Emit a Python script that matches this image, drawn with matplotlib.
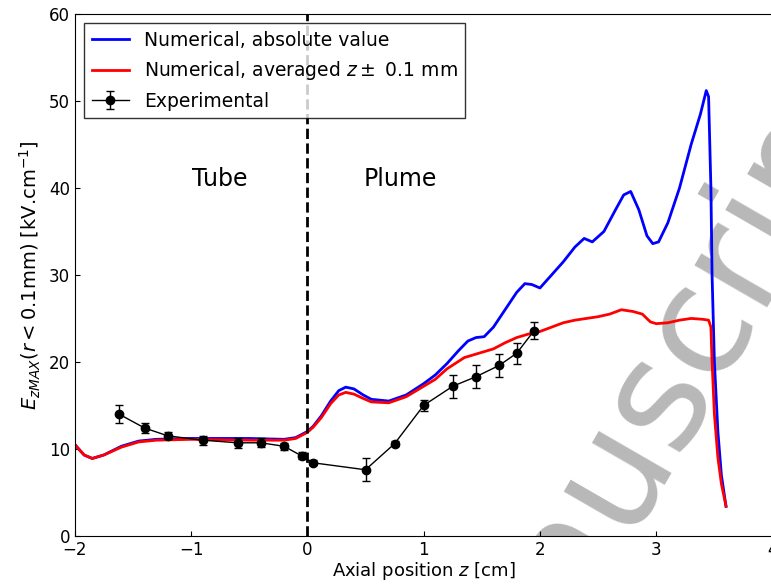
import matplotlib
matplotlib.use("Agg")
import matplotlib.pyplot as plt

blue_x = [-2,-1.92,-1.85,-1.75,-1.6,-1.45,-1.3,-1.0,-0.5,-0.2,-0.1,0.0,0.05,0.12,0.2,0.27,0.33,0.4,0.48,0.55,0.7,0.85,1.0,1.1,1.2,1.3,1.38,1.45,1.52,1.6,1.7,1.8,1.87,1.93,2.0,2.1,2.2,2.3,2.38,2.45,2.55,2.65,2.72,2.78,2.85,2.92,2.97,3.02,3.1,3.2,3.3,3.38,3.43,3.45,3.47,3.48,3.5,3.53,3.56,3.6]
blue_y = [10.5,9.3,8.9,9.3,10.3,10.9,11.1,11.2,11.2,11.1,11.3,12.0,12.6,13.8,15.5,16.7,17.1,16.9,16.2,15.7,15.5,16.2,17.5,18.5,19.8,21.3,22.4,22.8,22.9,24.0,26.0,28.0,29.0,28.9,28.5,30.0,31.5,33.2,34.2,33.8,35.0,37.5,39.2,39.6,37.5,34.5,33.6,33.8,36.0,40.0,45.0,48.5,51.2,50.5,40,30,20,12,7,3.4]
red_x = [-2,-1.92,-1.85,-1.75,-1.6,-1.45,-1.3,-1.0,-0.5,-0.2,-0.1,0.0,0.05,0.12,0.2,0.27,0.33,0.4,0.48,0.55,0.7,0.85,1.0,1.1,1.2,1.35,1.45,1.6,1.7,1.8,1.9,2.0,2.1,2.2,2.3,2.4,2.5,2.6,2.7,2.8,2.88,2.95,3.0,3.1,3.2,3.3,3.4,3.45,3.47,3.48,3.5,3.53,3.56,3.6]
red_y = [10.5,9.3,8.9,9.3,10.2,10.8,11.0,11.1,11.0,11.0,11.2,11.9,12.5,13.6,15.2,16.2,16.5,16.3,15.8,15.4,15.3,16.0,17.2,18.0,19.2,20.5,20.9,21.5,22.2,22.8,23.2,23.5,24.0,24.5,24.8,25.0,25.2,25.5,26.0,25.8,25.5,24.6,24.4,24.5,24.8,25.0,24.9,24.8,24.0,20,14,9,6,3.4]
exp_x = [-1.62,-1.4,-1.2,-0.9,-0.6,-0.4,-0.2,-0.05,0.05,0.5,0.75,1.0,1.25,1.45,1.65,1.8,1.95]
exp_y = [14.0,12.4,11.5,11.0,10.7,10.7,10.3,9.2,8.4,7.6,10.6,15.0,17.2,18.3,19.6,21.0,23.6]
exp_err = [1.0,0.6,0.4,0.5,0.6,0.5,0.4,0.4,0.3,1.3,0.3,0.6,1.3,1.3,1.3,1.2,1.0]

fig = plt.figure(figsize=(7.71,5.85), dpi=100)
ax = fig.add_axes([0.097, 0.084, 0.905, 0.892])
ax.plot(blue_x, blue_y, color='blue', lw=2, label='Numerical, absolute value')
ax.plot(red_x, red_y, color='red', lw=2, label=r'Numerical, averaged $z\pm$ 0.1 mm')
ax.errorbar(exp_x, exp_y, yerr=exp_err, fmt='-o', color='black', ms=6, lw=1, capsize=3, label='Experimental')
ax.axvline(0, color='black', ls='--', lw=2)
ax.text(-0.75, 41, 'Tube', fontsize=17, ha='center', va='center')
ax.text(0.8, 41, 'Plume', fontsize=17, ha='center', va='center')
ax.text(2.8, 12, 'manuscript', fontsize=110, color='#b0b0b0', rotation=60, ha='center', va='center', zorder=0, alpha=0.9, clip_on=True)
ax.set_xlim(-2, 4)
ax.set_ylim(0, 60)
ax.set_xticks(range(-2,5))
ax.set_xlabel(r'Axial position $z$ [cm]', fontsize=13, labelpad=1)
ax.set_ylabel(r'$E_{zMAX}(r<0.1$mm) [kV.cm$^{-1}$]', fontsize=14)
ax.tick_params(labelsize=12, direction='in')
ax.legend(loc='upper left', fontsize=13.5, frameon=True, fancybox=False, edgecolor='black', borderaxespad=0.5)
fig.savefig('out.png', dpi=100)
